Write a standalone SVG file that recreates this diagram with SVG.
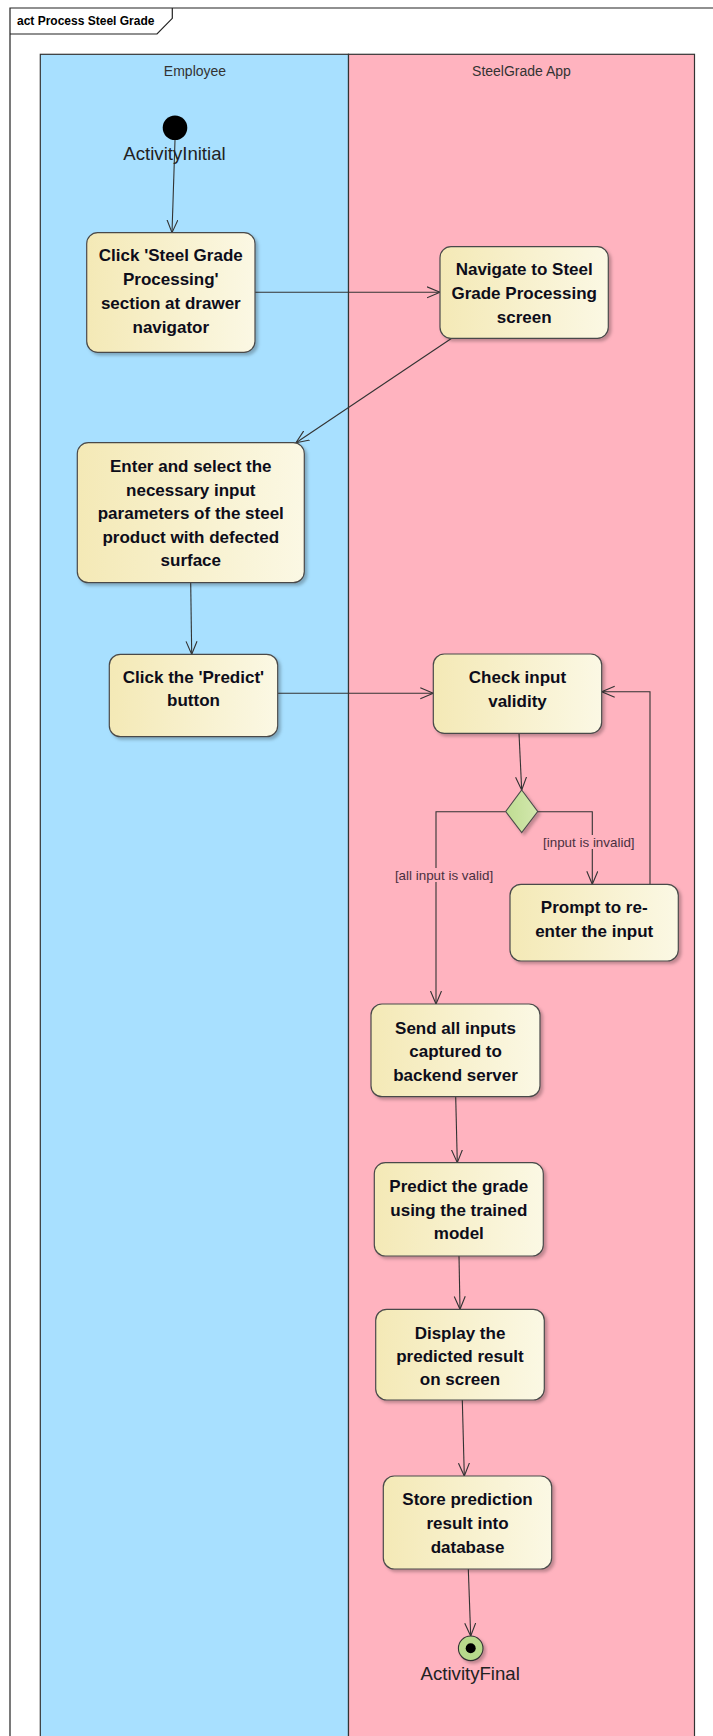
<svg xmlns="http://www.w3.org/2000/svg" width="713" height="1736" viewBox="0 0 713 1736">
<style>
.act{stroke:#4a4a4a;stroke-width:1.2;fill:url(#ag);filter:url(#sh)}
.t{font-family:"Liberation Sans",Arial,sans-serif;font-weight:bold;font-size:17px;fill:#0d0d1a;text-anchor:middle}
.lbl{font-family:"Liberation Sans",Arial,sans-serif;font-size:14px;fill:#333;text-anchor:middle}
.nl{font-family:"Liberation Sans",Arial,sans-serif;font-size:18.6px;fill:#222;text-anchor:middle}
.g{font-family:"Liberation Sans",Arial,sans-serif;font-size:13.4px;fill:#4a3040;text-anchor:middle}
.c{stroke:#333;stroke-width:1.1;fill:none;marker-end:url(#arr)}
</style>
<defs>
<linearGradient id="ag" x1="0" y1="0" x2="1" y2="0">
<stop offset="0" stop-color="#F4E9B6"/>
<stop offset="1" stop-color="#FBF8E4"/>
</linearGradient>
<linearGradient id="dg" x1="0" y1="0" x2="1" y2="0">
<stop offset="0" stop-color="#BFDC92"/>
<stop offset="1" stop-color="#D3E8AE"/>
</linearGradient>
<filter id="sh" x="-10%" y="-10%" width="130%" height="130%">
<feDropShadow dx="2.5" dy="2.5" stdDeviation="1.5" flood-color="#000" flood-opacity="0.25"/>
</filter>
<marker id="arr" markerUnits="userSpaceOnUse" markerWidth="16" markerHeight="14" refX="13" refY="6" orient="auto">
<path d="M0,0.5 L13,6 L0,11.5" fill="none" stroke="#333" stroke-width="1.1"/>
</marker>
</defs>
<rect x="0" y="0" width="713" height="1736" fill="#fff"/>
<g id="frame">
<path d="M714,8 L10,8 L10,1737" fill="none" stroke="#222" stroke-width="1.2"/>
<path d="M10,34 L157,34 L172.3,18.3 L172.3,8" fill="none" stroke="#222" stroke-width="1.2"/>
<text x="17" y="25" font-family="Liberation Sans,Arial,sans-serif" font-weight="bold" font-size="12px" fill="#000">act Process Steel Grade</text>
</g>
<g id="lane-employee">
<rect x="40.3" y="54.3" width="308.2" height="1700" fill="#A8E0FF" stroke="#333" stroke-width="1.2"/>
<text class="lbl" x="195" y="76">Employee</text>
</g>
<g id="lane-app">
<rect x="348.5" y="54.3" width="346" height="1700" fill="#FFB3BF" stroke="#333" stroke-width="1.2"/>
<text class="lbl" x="521.5" y="76">SteelGrade App</text>
</g>
<g id="connectors">
<path class="c" d="M175,140 L172,232.7"/>
<path class="c" d="M255,292.3 L440,292.3"/>
<path class="c" d="M451.7,338.3 L296,442.7"/>
<path class="c" d="M190.7,582.7 L191.7,654.3"/>
<path class="c" d="M277.7,693.3 L433.3,693.3"/>
<path class="c" d="M519,733.3 L521.7,790"/>
<path class="c" d="M505.7,811.7 L436,811.7 L436,1004"/>
<path class="c" d="M537.7,811.7 L592.3,811.7 L592.3,884.3"/>
<path class="c" d="M650,884.3 L650,691.7 L601.7,691.7"/>
<path class="c" d="M455.7,1096.7 L457.3,1162.7"/>
<path class="c" d="M459,1256 L460,1309.3"/>
<path class="c" d="M462.3,1400 L464.3,1476"/>
<path class="c" d="M468.3,1569 L470.7,1636"/>
<rect x="541" y="835" width="96" height="14" fill="#FFB3BF"/>
<text class="g" x="588.8" y="846.5">[input is invalid]</text>
<rect x="393" y="868" width="102" height="14" fill="#FFB3BF"/>
<text class="g" x="444" y="880">[all input is valid]</text>
</g>
<g id="initial">
<circle cx="175" cy="127.7" r="12.3" fill="#000"/>
<text class="nl" x="174.5" y="160">ActivityInitial</text>
</g>
<g id="click-steel-grade">
<rect class="act" x="86.7" y="232.7" width="168.3" height="119.6" rx="11"/>
<text class="t" x="170.8" y="261">Click 'Steel Grade</text>
<text class="t" x="170.8" y="285">Processing'</text>
<text class="t" x="170.8" y="309">section at drawer</text>
<text class="t" x="170.8" y="333">navigator</text>
</g>
<g id="navigate">
<rect class="act" x="440" y="246.7" width="168.3" height="91.6" rx="11"/>
<text class="t" x="524.2" y="275">Navigate to Steel</text>
<text class="t" x="524.2" y="299">Grade Processing</text>
<text class="t" x="524.2" y="323">screen</text>
</g>
<g id="enter-params">
<rect class="act" x="77.3" y="442.7" width="227" height="140" rx="11"/>
<text class="t" x="190.8" y="472">Enter and select the</text>
<text class="t" x="190.8" y="495.5">necessary input</text>
<text class="t" x="190.8" y="519">parameters of the steel</text>
<text class="t" x="190.8" y="542.5">product with defected</text>
<text class="t" x="190.8" y="566">surface</text>
</g>
<g id="click-predict">
<rect class="act" x="109.3" y="654.3" width="168.4" height="82.4" rx="11"/>
<text class="t" x="193.5" y="683">Click the 'Predict'</text>
<text class="t" x="193.5" y="706">button</text>
</g>
<g id="check-validity">
<rect class="act" x="433.3" y="654" width="168.4" height="79.3" rx="11"/>
<text class="t" x="517.5" y="683">Check input</text>
<text class="t" x="517.5" y="707">validity</text>
</g>
<g id="decision">
<path d="M521.7,790 L537.7,811.5 L521.7,832.7 L505.7,811.5 Z" fill="url(#dg)" stroke="#4a4a4a" stroke-width="1.1" filter="url(#sh)"/>
</g>
<g id="prompt">
<rect class="act" x="510" y="884.3" width="168.3" height="76.7" rx="11"/>
<text class="t" x="594.2" y="913">Prompt to re-</text>
<text class="t" x="594.2" y="937">enter the input</text>
</g>
<g id="send-inputs">
<rect class="act" x="371" y="1004" width="169" height="92.7" rx="11"/>
<text class="t" x="455.5" y="1034">Send all inputs</text>
<text class="t" x="455.5" y="1057">captured to</text>
<text class="t" x="455.5" y="1080.5">backend server</text>
</g>
<g id="predict-grade">
<rect class="act" x="374.3" y="1162.7" width="169" height="93.3" rx="11"/>
<text class="t" x="458.8" y="1192">Predict the grade</text>
<text class="t" x="458.8" y="1215.5">using the trained</text>
<text class="t" x="458.8" y="1239">model</text>
</g>
<g id="display-result">
<rect class="act" x="375.7" y="1309.3" width="168.6" height="90.7" rx="11"/>
<text class="t" x="460" y="1338.5">Display the</text>
<text class="t" x="460" y="1362">predicted result</text>
<text class="t" x="460" y="1385">on screen</text>
</g>
<g id="store-result">
<rect class="act" x="383.3" y="1476" width="168.4" height="93" rx="11"/>
<text class="t" x="467.5" y="1505">Store prediction</text>
<text class="t" x="467.5" y="1528.5">result into</text>
<text class="t" x="467.5" y="1552.5">database</text>
</g>
<g id="final">
<circle cx="470.7" cy="1648.3" r="12.3" fill="#B8DA8C" stroke="#333" stroke-width="1.1" filter="url(#sh)"/>
<circle cx="470.7" cy="1648.3" r="5" fill="#000"/>
<text class="nl" x="470.2" y="1680">ActivityFinal</text>
</g>
</svg>
